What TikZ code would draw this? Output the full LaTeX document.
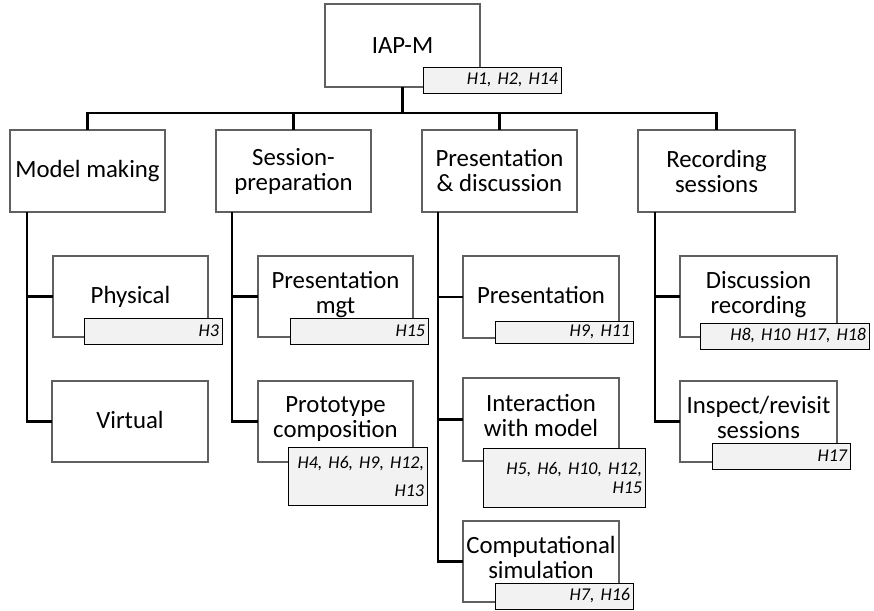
\documentclass[tikz,border=0pt]{standalone}
\usepackage{fontspec}
\setmainfont{Carlito}
\usetikzlibrary{calc}
\definecolor{boxline}{RGB}{96,96,96}
\definecolor{tagfill}{RGB}{242,242,242}
\newcommand{\labelfont}{\fontsize{24.8}{25}\selectfont}
\newcommand{\tagfont}{\fontsize{18}{19}\selectfont\itshape}
% invisible extra depth that lifts a two-line label a little
\newcommand{\lift}{\rule[-8pt]{0pt}{8pt}}

\begin{document}
\begin{tikzpicture}[x=1pt,y=-1pt,
  item/.style 2 args={draw=boxline, line width=1.3pt, fill=white,
    inner sep=0pt, outer sep=0pt, align=center, font=\labelfont,
    minimum width=#1pt, minimum height=#2pt},
  tag/.style 2 args={draw=black, line width=0.9pt, fill=tagfill,
    inner xsep=3pt, inner ysep=0pt, outer sep=0pt, align=right,
    font=\tagfont, text width=#1pt, minimum height=#2pt},
  link/.style={draw=black, line width=2.6pt}]
\useasboundingbox (0,0) rectangle (874,610);

% top level
\node[item={155}{83}] (root) at (402.5,45.5) {IAP-M};

% first level
\node[item={155}{82}] (mm) at (87.5,171) {Model making};
\node[item={155}{82}] (sp) at (293.5,171) {Session-\\preparation};
\node[item={155}{82}] (pd) at (499.5,171) {Presentation\\\& discussion};
\node[item={157}{82}] (rs) at (716.5,171) {Recording\\sessions};

% second level
\node[item={155}{81}] (phys)  at (130.5,296.5) {Physical};
\node[item={156}{81}] (virt)  at (130,421.5)   {Virtual\rule[-4pt]{0pt}{4pt}};
\node[item={155}{81}] (pmgt)  at (335.5,296.5) {Presentation\\mgt\lift};
\node[item={155}{81}] (proto) at (335.5,421.5) {Prototype\\composition\lift};
\node[item={156}{82}] (pres)  at (541,297)     {Presentation\rule[-4pt]{0pt}{4pt}};
\node[item={156}{83}] (inter) at (541,419.5)   {Interaction\\with model\lift};
\node[item={156}{81}] (comp)  at (541,561.5)   {Computational\\simulation\lift};
\node[item={157}{81}] (disc)  at (758.5,296.5) {Discussion\\recording\lift};
\node[item={157}{81}] (insp)  at (758.5,421.5) {Inspect/revisit\\sessions\lift};

% bus from the root to the first level
\coordinate (bus) at (402.5,113);
\draw[link] (root.south) -- (bus);
\draw[link] (mm.north) |- (bus) -| (rs.north);
\draw[link] (sp.north) -- (sp.north |- bus);
\draw[link] (pd.north) -- (pd.north |- bus);

% trunks to the second level
\draw[link] ($(mm.south west)+(17,0)$) |- (phys.west);
\draw[link] ($(mm.south west)+(17,0)$) |- (virt.west);
\draw[link] ($(sp.south west)+(16,0)$) |- (pmgt.west);
\draw[link] ($(sp.south west)+(16,0)$) |- (proto.west);
\draw[link] ($(pd.south west)+(16,0)$) |- (pres.west);
\draw[link] ($(pd.south west)+(16,0)$) |- (inter.west);
\draw[link] ($(pd.south west)+(16,0)$) |- (comp.west);
\draw[link] ($(rs.south west)+(17,0)$) |- (disc.west);
\draw[link] ($(rs.south west)+(17,0)$) |- (insp.west);

% hypothesis tags
\node[tag={132}{26}] (troot)  at (492,80)      {H1, H2, H14};
\node[tag={132}{26}] (tphys)  at (153,331)     {H3};
\node[tag={132}{26}] (tpmgt)  at (359,331)     {H15};
\node[tag={133}{58}, font=\fontsize{18}{28}\selectfont\itshape]
                     (tproto) at (357.5,476)   {H4, H6, H9, H12,\\H13};
\node[tag={132}{22}] (tpres)  at (564,332)     {H9, H11};
\node[tag={156}{59}] (tinter) at (564,477.5)   {H5, H6, H10, H12,\\H15};
\node[tag={132}{26}] (tcomp)  at (564,596)     {H7, H16};
\node[tag={163}{26}] (tdisc)  at (784.5,336)   {H8, H10 H17, H18};
\node[tag={132}{26}] (tinsp)  at (781,456)     {H17};
\end{tikzpicture}
\end{document}
